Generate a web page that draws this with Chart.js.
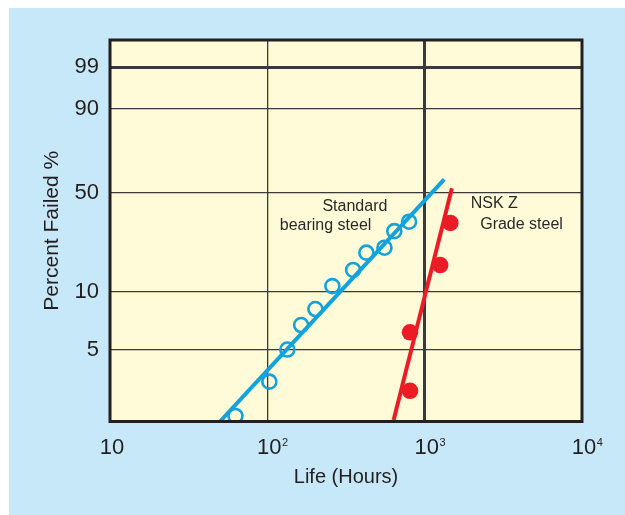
<!DOCTYPE html>
<html>
<head>
<meta charset="utf-8">
<script src="https://cdn.jsdelivr.net/npm/chart.js@4.4.1/dist/chart.umd.min.js"></script>
<style>
  html, body { margin: 0; padding: 0; background: #ffffff; }
  #wrap { position: absolute; left: 0; top: 0; width: 625px; height: 515px; }
  canvas { display: block; }
</style>
</head>
<body>
<div id="wrap"><canvas id="c" width="625" height="515"></canvas></div>
<script>
// ---------------- data ----------------
const xTickValues = [10, 100, 1000, 10000];
const xTickBase = ['10', '10', '10', '10'];
const xTickExponent = ['', '2', '3', '4'];
const yTickValues = [5, 10, 50, 90, 99];

// Standard bearing steel (open circles) – life in hours, percent failed
const standardLife   = [62.7, 103, 134, 164, 202, 259, 351, 426, 555, 641, 796];
const standardFailed = [2.23, 3.66, 5.0, 7.13, 8.52, 12.4, 18.9, 25.9, 27.9, 34.6, 38.4];
const standardFitLife   = [50, 1331];
const standardFitFailed = [2, 56.5];

// NSK Z grade steel (filled circles)
const nskLife   = [807, 807, 1254, 1456];
const nskFailed = [3.28, 6.5, 20.9, 37.9];
const nskFitLife   = [635, 1490];
const nskFitFailed = [2.06, 52.3];

// in-plot labels (life, percent)
const noteText   = ['Standard', 'bearing steel', 'NSK Z', 'Grade steel'];
const noteLife   = [224, 120, 1962, 2254];
const noteFailed = [44.5, 36.7, 45.6, 37.4];

// ---------------- probability paper rulings (scale definition) ----------------
const probPct  = [2, 5, 10, 50, 90, 99, 99.9];
const probFrac = [0, 0.1887, 0.3394, 0.5989, 0.8191, 0.9292, 1];

function interp(v, xs, ys) {
  if (v <= xs[0]) {
    return ys[0] + (v - xs[0]) * (ys[1] - ys[0]) / (xs[1] - xs[0]);
  }
  for (let i = 1; i < xs.length; i++) {
    if (v <= xs[i]) {
      return ys[i - 1] + (v - xs[i - 1]) * (ys[i] - ys[i - 1]) / (xs[i] - xs[i - 1]);
    }
  }
  const n = xs.length - 1;
  return ys[n] + (v - xs[n]) * (ys[n] - ys[n - 1]) / (xs[n] - xs[n - 1]);
}

class ProbabilityScale extends Chart.LinearScale {
  static id = 'probability';
  static defaults = {};
  buildTicks() {
    return yTickValues.map(v => ({ value: v }));
  }
  getPixelForValue(value) {
    const f = interp(value, probPct, probFrac);
    return this.bottom - f * (this.bottom - this.top);
  }
  getValueForPixel(pixel) {
    const f = (this.bottom - pixel) / (this.bottom - this.top);
    return interp(f, probFrac, probPct);
  }
}
Chart.register(ProbabilityScale);

// ---------------- styling ----------------
const BLUE = '#12a3de';
const RED = '#ec1c27';
const INK = '#231f20';
const FONT = '"Liberation Sans", Arial, Helvetica, sans-serif';
Chart.defaults.font.family = FONT;
Chart.defaults.color = INK;

const pts = (xs, ys) => xs.map((x, i) => ({ x: x, y: ys[i] }));

const paperPlugin = {
  id: 'paper',
  beforeDraw(chart) {
    const { ctx, chartArea: a } = chart;
    ctx.save();
    ctx.fillStyle = '#c7e8f8';
    ctx.fillRect(9, 8, chart.width - 9, chart.height - 8);
    ctx.fillStyle = '#fffad8';
    ctx.fillRect(a.left, a.top, a.right - a.left, a.bottom - a.top);
    ctx.restore();
  },
  afterDatasetsDraw(chart) {
    const { ctx, chartArea: a, scales } = chart;
    ctx.save();
    // plot frame
    ctx.strokeStyle = INK;
    ctx.lineWidth = 3;
    ctx.strokeRect(a.left, a.top, a.right - a.left, a.bottom - a.top);
    // in-plot notes
    ctx.fillStyle = '#2a2a2a';
    ctx.font = '16px ' + FONT;
    ctx.textAlign = 'left';
    ctx.textBaseline = 'middle';
    noteText.forEach((t, i) => {
      ctx.fillText(t, scales.x.getPixelForValue(noteLife[i]), scales.y.getPixelForValue(noteFailed[i]));
    });
    // x tick labels with small superscript exponents
    ctx.fillStyle = INK;
    ctx.textBaseline = 'alphabetic';
    const baseY = a.bottom + 32;
    xTickValues.forEach((v, i) => {
      const px = scales.x.getPixelForValue(v) + 2;
      ctx.font = '22px ' + FONT;
      ctx.textAlign = 'center';
      ctx.fillText(xTickBase[i], px, baseY);
      const w = ctx.measureText(xTickBase[i]).width;
      if (xTickExponent[i]) {
        ctx.font = '11px ' + FONT;
        ctx.textAlign = 'left';
        ctx.fillText(xTickExponent[i], px + w / 2 + 0.5, baseY - 7.5);
      }
    });
    ctx.restore();
  }
};

new Chart(document.getElementById('c'), {
  type: 'scatter',
  data: {
    datasets: [
      {
        label: 'Standard bearing steel',
        data: pts(standardLife, standardFailed),
        pointRadius: 7,
        borderWidth: 2.6,
        borderColor: BLUE,
        backgroundColor: 'rgba(0,0,0,0)'
      },
      {
        label: 'NSK Z Grade steel',
        data: pts(nskLife, nskFailed),
        pointRadius: 8.3,
        borderWidth: 0,
        borderColor: RED,
        backgroundColor: RED
      },
      {
        label: 'Standard fit',
        data: pts(standardFitLife, standardFitFailed),
        showLine: true,
        pointRadius: 0,
        borderWidth: 4,
        borderColor: BLUE
      },
      {
        label: 'NSK fit',
        data: pts(nskFitLife, nskFitFailed),
        showLine: true,
        pointRadius: 0,
        borderWidth: 4,
        borderColor: RED
      }
    ]
  },
  options: {
    responsive: false,
    animation: false,
    layout: { padding: { left: 0, top: 40, right: 43, bottom: 0 } },
    plugins: { legend: { display: false }, tooltip: { enabled: false } },
    scales: {
      x: {
        type: 'logarithmic',
        position: 'bottom',
        min: 10,
        max: 10000,
        afterBuildTicks: s => { s.ticks = xTickValues.map(v => ({ value: v })); },
        afterFit: s => { s.height = 93.5; },
        ticks: {
          display: false,
          autoSkip: false,
          maxRotation: 0
        },
        grid: {
          drawTicks: false,
          color: '#3a3a3a',
          lineWidth: c => (c.tick && c.tick.value === 1000 ? 3 : 1.3)
        },
        border: { display: false },
        title: {
          display: true,
          text: 'Life (Hours)',
          color: INK,
          font: { size: 20 },
          padding: { top: 0, bottom: 26 }
        }
      },
      y: {
        type: 'probability',
        position: 'left',
        min: 2,
        max: 99.9,
        afterFit: s => { s.width = 110; },
        ticks: {
          autoSkip: false,
          padding: 11,
          color: INK,
          font: { size: 22 },
          callback: v => String(v)
        },
        grid: {
          drawTicks: false,
          color: '#3a3a3a',
          lineWidth: c => (c.tick && c.tick.value === 99 ? 3 : 1.3)
        },
        border: { display: false },
        title: {
          display: true,
          text: 'Percent Failed %',
          color: INK,
          font: { size: 21 },
          padding: { top: 40, bottom: 0 }
        }
      }
    }
  },
  plugins: [paperPlugin]
});
</script>
</body>
</html>
